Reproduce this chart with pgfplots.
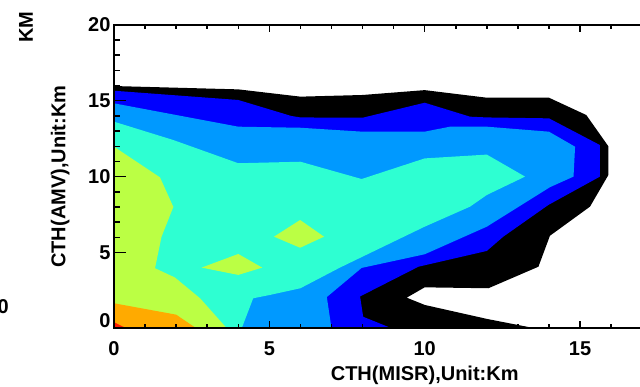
\documentclass[border=0pt]{standalone}
\usepackage{pgfplots}
\pgfplotsset{compat=1.18}
\usepackage{fontspec}
\setmainfont{Liberation Sans}

% contour level colours, lowest to highest
\definecolor{lvA}{RGB}{0,0,0}
\definecolor{lvB}{RGB}{0,0,255}
\definecolor{lvC}{RGB}{0,153,255}
\definecolor{lvD}{RGB}{46,255,210}
\definecolor{lvE}{RGB}{187,255,68}
\definecolor{lvF}{RGB}{255,170,0}
\definecolor{lvG}{RGB}{255,30,0}

\newcommand{\lblfont}{\fontsize{20bp}{24bp}\selectfont\bfseries}

\begin{document}
\begin{tikzpicture}
\useasboundingbox (0,0) rectangle (640bp,387bp);
\clip (0,0) rectangle (640bp,387bp);

% stray labels of the neighbouring panel
\node[font=\lblfont, rotate=90, anchor=center] at (26bp,360bp) {KM};
\node[font=\lblfont, inner sep=0pt, anchor=east] at (9bp,80bp) {0};

\begin{axis}[
  at={(114bp,58.7bp)}, anchor=south west,
  x=31.07bp, y=15.17bp,
  xmin=0, xmax=20, ymin=0, ymax=20,
  axis on top,
  axis line style={line width=2.2bp},
  tick align=inside,
  tick style={line width=1.5bp, black},
  major tick length=9bp, minor tick length=5bp,
  xtick style={/pgfplots/major tick length=7bp, /pgfplots/minor tick length=4bp},
  ytick style={/pgfplots/major tick length=12bp, /pgfplots/minor tick length=6bp},
  xtick={0,5,10,15,20}, minor x tick num=4,
  ytick={5,10,15,20}, minor y tick num=4,
  extra y ticks={0},
  extra y tick style={yticklabel style={yshift=8bp}},
  /pgf/number format/assume math mode=true,
  tick label style={font=\lblfont},
  xticklabel style={yshift=-10bp},
  xlabel={CTH(MISR),Unit:Km},
  ylabel={CTH(AMV),Unit:Km},
  every axis x label/.style={at={(rel axis cs:0.5,0)}, anchor=base, yshift=-51.7bp, font=\lblfont},
  every axis y label/.style={at={(rel axis cs:-0.0864,0.5)}, anchor=center, rotate=90, font=\lblfont},
  every axis plot/.append style={draw=none, mark=none},
]

% level 1
\addplot[fill=lvA] coordinates {
  (0,0) (0,15.97) (4,15.75) (6,15.27) (8,15.38) (10,15.7) (12,15.2) (14,15.2)
  (15.2,14.06) (15.91,12.0) (15.91,10.1) (15.32,8.02) (14.03,6.1) (13.66,4.06)
  (12.05,2.64) (10,2.7) (9.42,2.02) (10,1.54) (12,0.62) (13.55,0) (0,0)
};
% level 2
\addplot[fill=lvB] coordinates {
  (0,0) (0,15.66) (4,15.05) (5.7,14.0) (6,13.9) (8,13.88) (10,14.87) (11.46,13.95)
  (12,13.9) (14,13.84) (15.64,12.08) (15.64,10.0) (13.98,8.13) (12.53,6.04)
  (12,5.1) (9.8,4.06) (7.92,2.1) (8.02,0.76) (8.94,0) (0,0)
};
% level 3
\addplot[fill=lvC] coordinates {
  (0,0) (0,14.83) (4,13.29) (6,13.22) (8,12.96) (10,12.96) (10.81,13.29) (12,13.29)
  (14,12.96) (14.84,11.97) (14.79,10.0) (14.03,9.3) (12,6.7) (10,4.88) (7.97,3.98)
  (6.85,2.06) (7.0,0) (0,0)
};
% level 4
\addplot[fill=lvD] coordinates {
  (0,0) (0,13.62) (1.91,12.41) (4,10.88) (6,10.98) (7.97,9.84) (10,11.2) (12,11.45)
  (13.23,10.0) (12,8.79) (11.46,8.02) (10,6.7) (7.27,4.0) (6,2.64) (5.02,2.2)
  (4.48,1.98) (4.11,0) (0,0)
};
% level 5
\addplot[fill=lvE] coordinates {
  (0,0) (0,11.97) (1.48,9.95) (1.91,8.0) (1.53,6.04) (1.32,3.96) (1.96,3.35)
  (2.77,1.98) (3.63,0) (0,0)
};
\addplot[fill=lvE] coordinates {
  (2.82,4.0) (4,4.9) (4.77,4.0) (4,3.52) (2.82,4.0)
};
\addplot[fill=lvE] coordinates {
  (5.15,6.04) (5.99,7.14) (6.76,6.04) (5.99,5.31) (5.15,6.04)
};
% level 6
\addplot[fill=lvF] coordinates {
  (0,0) (0,1.65) (2,0.9) (2.65,0) (0,0)
};
% level 7
\addplot[fill=lvG] coordinates {
  (0,0) (0,0.4) (0.4,0) (0,0)
};
\end{axis}
\end{tikzpicture}
\end{document}
